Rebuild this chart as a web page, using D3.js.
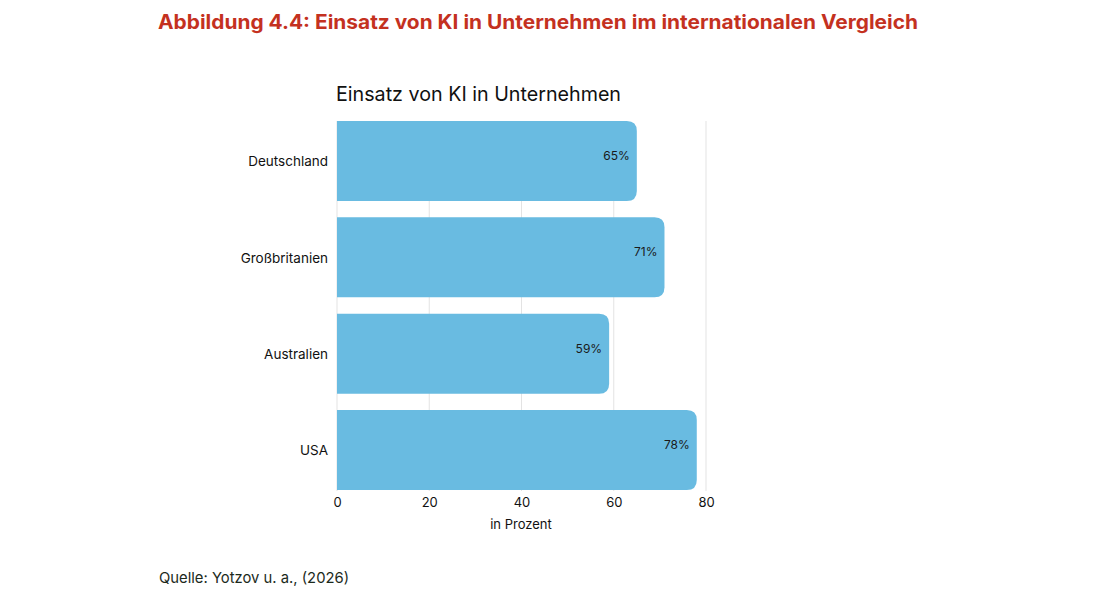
<!DOCTYPE html>
<html>
<head>
<meta charset="utf-8">
<script src="https://cdn.jsdelivr.net/npm/d3@7"></script>
<style>
  body { margin: 0; background: #fff; }
  text { font-family: Inter, "Open Sans", sans-serif; }
</style>
</head>
<body>
<svg id="chart" width="1118" height="602"></svg>
<script>
/* data */
var countries = ["Deutschland", "Großbritanien", "Australien", "USA"];
var shares = [65, 71, 59, 78];
var xTicks = [0, 20, 40, 60, 80];

var svg = d3.select("#chart");

/* figure heading */
svg.append("text")
  .attr("x", 158).attr("y", 29)
  .attr("font-family", "'DejaVu Sans Condensed', 'Liberation Sans Narrow', sans-serif")
  .attr("font-weight", "bold")
  .attr("font-size", 20)
  .attr("fill", "#c4311f")
  .attr("textLength", 760)
  .attr("lengthAdjust", "spacingAndGlyphs")
  .text("Abbildung 4.4: Einsatz von KI in Unternehmen im internationalen Vergleich");

/* chart title */
svg.append("text")
  .attr("x", 336).attr("y", 101)
  .attr("font-size", 20)
  .attr("fill", "#111")
  .attr("textLength", 285)
  .attr("lengthAdjust", "spacingAndGlyphs")
  .text("Einsatz von KI in Unternehmen");

/* scales */
var xScale = d3.scaleLinear().domain([0, 80]).range([337, 706]);
var yScale = d3.scaleBand().domain(countries).range([112.8, 498.2])
  .paddingInner(0.17).paddingOuter(0.085);

/* grid */
svg.append("g").selectAll("line")
  .data(xTicks)
  .join("line")
  .attr("x1", function(d) { return xScale(d); })
  .attr("x2", function(d) { return xScale(d); })
  .attr("y1", 121).attr("y2", 491)
  .attr("stroke", "#e3e3e3")
  .attr("stroke-width", 1);

/* bars, rounded on the right side only */
var r = 10;
function barPath(d, i) {
  var x0 = xScale(0), x1 = xScale(d), y0 = yScale(countries[i]), h = yScale.bandwidth();
  return "M" + x0 + "," + y0 +
    "H" + (x1 - r) +
    "Q" + x1 + "," + y0 + " " + x1 + "," + (y0 + r) +
    "V" + (y0 + h - r) +
    "Q" + x1 + "," + (y0 + h) + " " + (x1 - r) + "," + (y0 + h) +
    "H" + x0 + "Z";
}

svg.append("g").selectAll("path")
  .data(shares)
  .join("path")
  .attr("d", barPath)
  .attr("fill", "#69bbe1");

/* value labels */
svg.append("g").selectAll("text")
  .data(shares)
  .join("text")
  .attr("x", function(d) { return xScale(d) - 7; })
  .attr("y", function(d, i) { return yScale(countries[i]) + yScale.bandwidth() / 2 - 1; })
  .attr("text-anchor", "end")
  .attr("font-size", 12)
  .attr("fill", "#1a1a1a")
  .text(function(d) { return d + "%"; });

/* y axis labels */
var yAxis = d3.axisLeft(yScale).tickSize(0).tickPadding(9);
var yG = svg.append("g")
  .attr("transform", "translate(337,0)")
  .call(yAxis);
yG.select(".domain").remove();
yG.selectAll("text")
  .attr("font-family", "Inter, 'Open Sans', sans-serif")
  .attr("font-size", 13.5)
  .attr("dy", "0.4em")
  .attr("fill", "#111");

/* x axis */
var xAxis = d3.axisBottom(xScale).tickValues(xTicks).tickSize(0).tickPadding(6);
var xG = svg.append("g")
  .attr("transform", "translate(0,492)")
  .call(xAxis);
xG.select(".domain").remove();
xG.selectAll("text")
  .attr("font-family", "Inter, 'Open Sans', sans-serif")
  .attr("font-size", 13)
  .attr("fill", "#111");

svg.append("text")
  .attr("x", 521).attr("y", 529)
  .attr("text-anchor", "middle")
  .attr("font-size", 13)
  .attr("fill", "#111")
  .text("in Prozent");

/* source */
svg.append("text")
  .attr("x", 159).attr("y", 583)
  .attr("font-size", 14.8)
  .attr("fill", "#1c2a1c")
  .text("Quelle: Yotzov u. a., (2026)");
</script>
</body>
</html>
